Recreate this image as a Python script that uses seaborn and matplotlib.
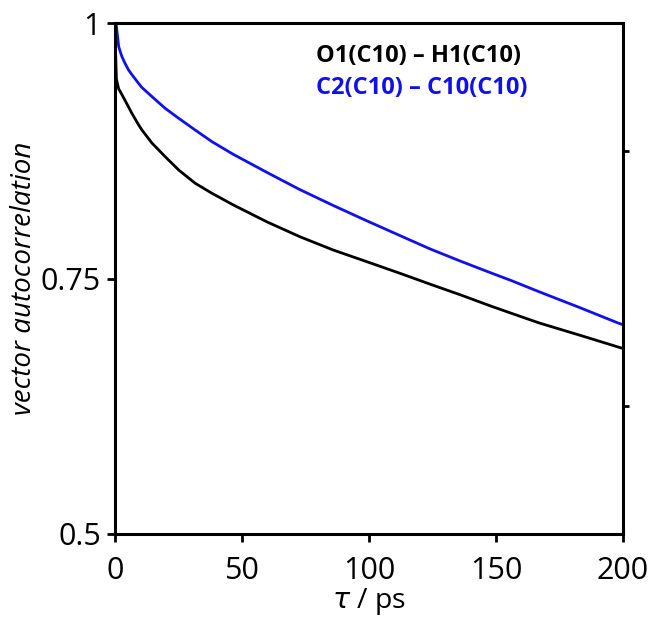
import numpy as np
import pandas as pd
import matplotlib
matplotlib.use("Agg")
import matplotlib.pyplot as plt
import seaborn as sns

# ---------------- DATA ----------------
tau_ps = [0, 0.3, 0.6, 1.5, 2.1, 2.8, 4.1, 5.4, 6.7, 9.3, 10.6, 14.6, 19.8,
          25.1, 31.6, 38.2, 46.6, 59.7, 72.8, 85.9, 99.1, 112.2, 124, 136,
          148, 156, 167, 183, 198, 200]
o1_h1 = [1.0, 0.97, 0.945, 0.9355, 0.933, 0.9298, 0.9238, 0.9177, 0.9116,
         0.9005, 0.8955, 0.8825, 0.8692, 0.8562, 0.8432, 0.8334, 0.822,
         0.8056, 0.7909, 0.7779, 0.7665, 0.7551, 0.7445, 0.734, 0.723,
         0.716, 0.7065, 0.6945, 0.683, 0.6815]
c2_c10 = [1.0, 0.9985, 0.997, 0.977, 0.972, 0.967, 0.960, 0.954, 0.9495,
          0.941, 0.937, 0.928, 0.9165, 0.9068, 0.8953, 0.8839, 0.8715,
          0.854, 0.837, 0.8215, 0.8065, 0.792, 0.779, 0.767, 0.7555, 0.748,
          0.737, 0.7215, 0.7065, 0.7047]
series_names = ["O1(C10) – H1(C10)", "C2(C10) – C10(C10)"]
series_colors = ["black", "#1010ee"]
y_ticks = [0.5, 0.75, 1.0]
y_tick_labels = ["0.5", "0.75", "1"]
right_ticks = [0.625, 0.875]
x_ticks = [0, 50, 100, 150, 200]
# ---------------------------------------------------------------

df = pd.DataFrame({
    "tau": tau_ps * 2,
    "acf": o1_h1 + c2_c10,
    "pair": [series_names[0]] * len(tau_ps) + [series_names[1]] * len(tau_ps),
})

sns.set_theme(style="ticks")
plt.rcParams["font.family"] = ["Open Sans", "DejaVu Sans"]
plt.rcParams["text.color"] = "black"
plt.rcParams["axes.labelcolor"] = "black"

fig = plt.figure(figsize=(6.49, 6.22), dpi=100)
ax = fig.add_axes([0.177, 0.1415, 0.783, 0.8215])

sns.lineplot(data=df, x="tau", y="acf", hue="pair",
             palette=dict(zip(series_names, series_colors)),
             linewidth=2.0, legend=False, ax=ax)
for ln in ax.get_lines():
    ln.set_solid_joinstyle("round")

ax.set_xlim(0, 200)
ax.set_ylim(0.5, 1.0)
ax.set_xticks(x_ticks)
ax.set_yticks(y_ticks)
ax.set_yticklabels(y_tick_labels)
ax.tick_params(axis="both", direction="out", length=6, width=2.0,
               labelsize=22, colors="black", pad=4)
ax.tick_params(axis="x", pad=10)

for sp in ax.spines.values():
    sp.set_visible(True)
    sp.set_linewidth(2.2)
    sp.set_color("black")

# right axis: unlabeled minor marks
twin = ax.twinx()
twin.set_ylim(0.5, 1.0)
twin.set_yticks(right_ticks)
twin.set_yticklabels([])
twin.tick_params(axis="y", direction="out", length=4, width=2.0,
                 colors="black")
for sp in twin.spines.values():
    sp.set_visible(False)

ax.set_xlabel(r"$\tau$ / ps", fontsize=20.5, labelpad=0)
ax.set_ylabel("vector autocorrelation", fontsize=20, style="italic",
              labelpad=2)

ax.text(0.396, 0.935, series_names[0], transform=ax.transAxes,
        color=series_colors[0], fontsize=17, fontweight="bold",
        va="center", ha="left")
ax.text(0.396, 0.872, series_names[1], transform=ax.transAxes,
        color=series_colors[1], fontsize=17, fontweight="bold",
        va="center", ha="left")

fig.savefig("out.png", dpi=100)
